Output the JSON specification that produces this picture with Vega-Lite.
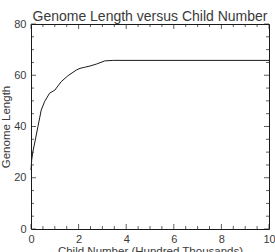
{
  "$schema": "https://vega.github.io/schema/vega-lite/v6.json",
  "autosize": "none",
  "padding": {"left": 31, "top": 24, "right": 6, "bottom": 23},
  "width": 238,
  "height": 205,
  "title": {"text": "Genome Length versus Child Number", "font": "Liberation Sans", "fontSize": 14, "fontWeight": "normal", "color": "#3a3a3a", "offset": -6},
  "config": {
    "view": {"stroke": "#1a1a1a", "strokeWidth": 1},
    "axis": {
      "grid": false,
      "domain": false,
      "ticks": true,
      "tickSize": 0,
      "labelFont": "Liberation Sans",
      "labelFontSize": 11,
      "labelColor": "#3a3a3a",
      "labelFlush": false,
      "titleFont": "Liberation Sans",
      "titleFontSize": 11.5,
      "titleFontWeight": "normal",
      "titleColor": "#3a3a3a"
    }
  },
  "datasets": {
    "curve": [
      {"x": 0, "y": 23},
      {"x": 0.03, "y": 27},
      {"x": 0.08, "y": 30.2},
      {"x": 0.18, "y": 34.7},
      {"x": 0.29, "y": 39.9},
      {"x": 0.43, "y": 46.4},
      {"x": 0.57, "y": 49.7},
      {"x": 0.78, "y": 53},
      {"x": 1.0, "y": 54.2},
      {"x": 1.27, "y": 57.5},
      {"x": 1.55, "y": 59.8},
      {"x": 1.9, "y": 62},
      {"x": 2.06, "y": 62.7},
      {"x": 2.25, "y": 63.1},
      {"x": 2.48, "y": 63.6},
      {"x": 2.76, "y": 64.4},
      {"x": 3.1, "y": 65.6},
      {"x": 3.46, "y": 65.8},
      {"x": 10, "y": 65.8}
    ],
    "xmajor": [{"v": 0}, {"v": 2}, {"v": 4}, {"v": 6}, {"v": 8}, {"v": 10}],
    "xminor": [{"v": 0.5}, {"v": 1}, {"v": 1.5}, {"v": 2.5}, {"v": 3}, {"v": 3.5}, {"v": 4.5}, {"v": 5}, {"v": 5.5}, {"v": 6.5}, {"v": 7}, {"v": 7.5}, {"v": 8.5}, {"v": 9}, {"v": 9.5}],
    "ymajor": [{"v": 0}, {"v": 20}, {"v": 40}, {"v": 60}, {"v": 80}],
    "yminor": [{"v": 5}, {"v": 10}, {"v": 15}, {"v": 25}, {"v": 30}, {"v": 35}, {"v": 45}, {"v": 50}, {"v": 55}, {"v": 65}, {"v": 70}, {"v": 75}]
  },
  "layer": [
    {
      "data": {"name": "curve"},
      "mark": {"type": "line", "color": "#1a1a1a", "strokeWidth": 1},
      "encoding": {
        "x": {"field": "x", "type": "quantitative", "scale": {"domain": [0, 10], "nice": false},
          "axis": {"orient": "bottom", "values": [0, 2, 4, 6, 8, 10], "format": "d",
            "labelPadding": 4, "title": "Child Number (Hundred Thousands)", "titlePadding": 1}},
        "y": {"field": "y", "type": "quantitative", "scale": {"domain": [0, 80], "nice": false},
          "axis": {"orient": "left", "values": [0, 20, 40, 60, 80], "format": "d",
            "labelPadding": 5, "title": "Genome Length", "titlePadding": 2}}
      }
    },
    {
      "data": {"name": "xmajor"},
      "mark": {"type": "tick", "orient": "vertical", "size": 5, "thickness": 1, "yOffset": -2.5, "color": "#1a1a1a"},
      "encoding": {"x": {"field": "v", "type": "quantitative"}, "y": {"datum": 0, "type": "quantitative"}}
    },
    {
      "data": {"name": "xmajor"},
      "mark": {"type": "tick", "orient": "vertical", "size": 5, "thickness": 1, "yOffset": 2.5, "color": "#1a1a1a"},
      "encoding": {"x": {"field": "v", "type": "quantitative"}, "y": {"datum": 80, "type": "quantitative"}}
    },
    {
      "data": {"name": "xminor"},
      "mark": {"type": "tick", "orient": "vertical", "size": 3, "thickness": 1, "yOffset": -1.5, "color": "#1a1a1a"},
      "encoding": {"x": {"field": "v", "type": "quantitative"}, "y": {"datum": 0, "type": "quantitative"}}
    },
    {
      "data": {"name": "xminor"},
      "mark": {"type": "tick", "orient": "vertical", "size": 3, "thickness": 1, "yOffset": 1.5, "color": "#1a1a1a"},
      "encoding": {"x": {"field": "v", "type": "quantitative"}, "y": {"datum": 80, "type": "quantitative"}}
    },
    {
      "data": {"name": "ymajor"},
      "mark": {"type": "tick", "orient": "horizontal", "size": 5, "thickness": 1, "xOffset": 2.5, "color": "#1a1a1a"},
      "encoding": {"y": {"field": "v", "type": "quantitative"}, "x": {"datum": 0, "type": "quantitative"}}
    },
    {
      "data": {"name": "ymajor"},
      "mark": {"type": "tick", "orient": "horizontal", "size": 5, "thickness": 1, "xOffset": -2.5, "color": "#1a1a1a"},
      "encoding": {"y": {"field": "v", "type": "quantitative"}, "x": {"datum": 10, "type": "quantitative"}}
    },
    {
      "data": {"name": "yminor"},
      "mark": {"type": "tick", "orient": "horizontal", "size": 3, "thickness": 1, "xOffset": 1.5, "color": "#1a1a1a"},
      "encoding": {"y": {"field": "v", "type": "quantitative"}, "x": {"datum": 0, "type": "quantitative"}}
    },
    {
      "data": {"name": "yminor"},
      "mark": {"type": "tick", "orient": "horizontal", "size": 3, "thickness": 1, "xOffset": -1.5, "color": "#1a1a1a"},
      "encoding": {"y": {"field": "v", "type": "quantitative"}, "x": {"datum": 10, "type": "quantitative"}}
    }
  ]
}
